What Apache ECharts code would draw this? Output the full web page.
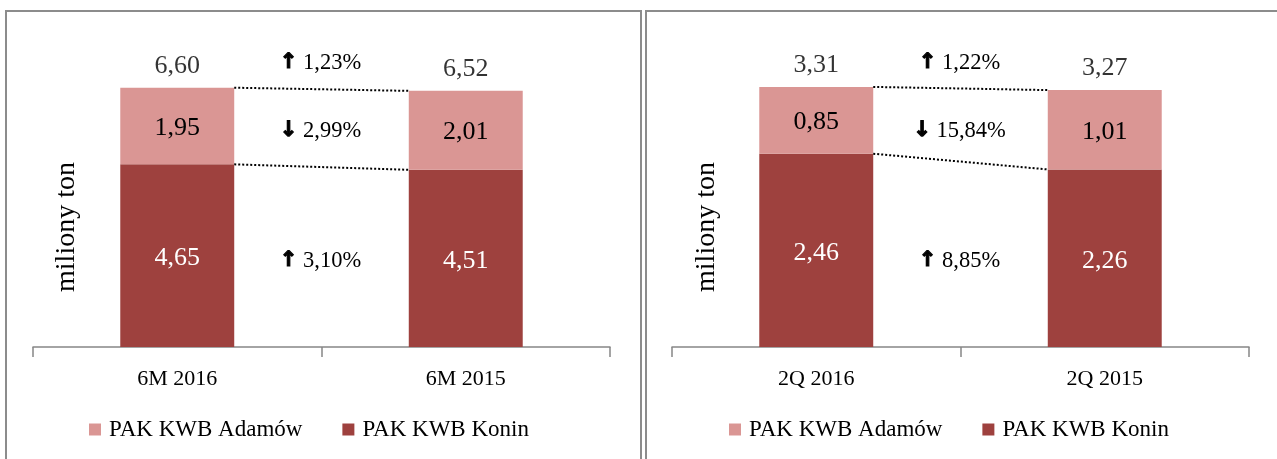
<!DOCTYPE html>
<html>
<head>
<meta charset="utf-8">
<script src="https://cdn.jsdelivr.net/npm/echarts@6/dist/echarts.min.js"></script>
<style>
  html, body { margin: 0; padding: 0; background: #fff; }
  #chart { width: 1277px; height: 459px; }
</style>
</head>
<body>
<div id="chart"></div>
<script>
// dane - wydobycie wegla (mln ton)
const cats6M = ['6M 2016', '6M 2015']
const cats2Q = ['2Q 2016', '2Q 2015']
const konin6M = [4.65, 4.51]
const adamow6M = [1.95, 2.01]
const total6M = [6.60, 6.52]
const konin2Q = [2.46, 2.26]
const adamow2Q = [0.85, 1.01]
const total2Q = [3.31, 3.27]
// zmiany r/r: [strzalka w gore?, tekst]
const change6M = [[true, '1,23%'], [false, '2,99%'], [true, '3,10%']]
const change2Q = [[true, '1,22%'], [false, '15,84%'], [true, '8,85%']]
const legendNames = ['PAK KWB Adamów', 'PAK KWB Konin']

const FONT = '"Liberation Serif", "DejaVu Serif", serif'
const C_ADAMOW = '#DA9694'
const C_KONIN = '#9E413E'
const BAR_W = 0.395          // czesc szerokosci kategorii
const HALF = BAR_W / 2
const fmt = v => v.toFixed(2).replace('.', ',')

const grids = [
  {left: 33, top: 72, width: 577, height: 275},
  {left: 672, top: 72, width: 577, height: 275}
]
const changeY = [63, 131, 261]

function panelSeries(idx, konin, adamow, total) {
  return [
    {
      name: 'PAK KWB Konin', type: 'bar', stack: 's' + idx,
      xAxisIndex: idx, yAxisIndex: idx, barWidth: (BAR_W * 100) + '%',
      itemStyle: {color: C_KONIN},
      label: {show: true, position: 'inside', offset: [0, 3], color: '#fff', fontSize: 26, fontFamily: FONT,
        formatter: p => fmt(p.value)},
      data: konin
    },
    {
      name: 'PAK KWB Adamów', type: 'bar', stack: 's' + idx,
      xAxisIndex: idx, yAxisIndex: idx, barWidth: (BAR_W * 100) + '%',
      itemStyle: {color: C_ADAMOW},
      label: {show: true, position: 'inside', offset: [0, 2], color: '#000', fontSize: 26, fontFamily: FONT,
        formatter: p => fmt(p.value)},
      data: adamow
    },
    {
      type: 'scatter', xAxisIndex: idx, yAxisIndex: idx, symbolSize: 0, silent: true,
      label: {show: true, position: 'top', distance: 9, color: '#000', fontSize: 26, fontFamily: FONT,
        formatter: p => fmt(p.value)},
      data: total
    },
    // linie kropkowane laczace slupki
    {
      type: 'line', xAxisIndex: idx + 2, yAxisIndex: idx, symbol: 'none', silent: true,
      lineStyle: {color: '#000', width: 2, type: [2, 2]},
      data: [[HALF, total[0]], [1 - HALF, total[1]]]
    },
    {
      type: 'line', xAxisIndex: idx + 2, yAxisIndex: idx, symbol: 'none', silent: true,
      lineStyle: {color: '#000', width: 2, type: [2, 2]},
      data: [[HALF, konin[0]], [1 - HALF, konin[1]]]
    }
  ]
}

function catAxis(idx, cats) {
  return {
    type: 'category', gridIndex: idx, data: cats,
    axisLine: {lineStyle: {color: '#868686', width: 1.5}},
    axisTick: {show: true, length: 10, lineStyle: {color: '#868686', width: 1.5}},
    axisLabel: {color: '#000', fontSize: 22, fontFamily: FONT, margin: 21}
  }
}

function changeTexts(idx, changes) {
  const g = grids[idx]
  return changes.map((c, i) => ({
    type: 'text', x: g.left + g.width / 2 - 1, y: changeY[i], z: 10,
    style: {
      text: '{a|' + (c[0] ? '↑' : '↓') + '}{t| ' + c[1] + '}',
      align: 'center', verticalAlign: 'middle',
      rich: {
        a: {fontSize: 21, fontWeight: 'bold', fontFamily: 'DejaVu Sans', fill: '#000',
          stroke: '#000', lineWidth: 1.2},
        t: {fontSize: 22.5, fontFamily: FONT, fill: '#000'}
      }
    }
  }))
}

function legendAt(left) {
  return {
    data: legendNames, left: left, top: 413, itemWidth: 12, itemHeight: 12, itemGap: 40, icon: 'rect',
    textStyle: {color: '#000', fontSize: 23, fontFamily: FONT, padding: [0, 0, 0, 3]}, selectedMode: false
  }
}

const chart = echarts.init(document.getElementById('chart'))
chart.setOption({
  animation: false,
  grid: grids,
  xAxis: [
    catAxis(0, cats6M),
    catAxis(1, cats2Q),
    {type: 'value', gridIndex: 0, min: -0.5, max: 1.5, show: false},
    {type: 'value', gridIndex: 1, min: -0.5, max: 1.5, show: false}
  ],
  yAxis: [
    {type: 'value', gridIndex: 0, min: 0, max: 7, show: false},
    {type: 'value', gridIndex: 1, min: 0, max: 3.5, show: false}
  ],
  legend: [legendAt(84), legendAt(724)],
  series: [].concat(
    panelSeries(0, konin6M, adamow6M, total6M),
    panelSeries(1, konin2Q, adamow2Q, total2Q)
  ),
  graphic: [
    {type: 'rect', shape: {x: 6, y: 11, width: 635, height: 470},
      style: {fill: 'none', stroke: '#8c8c8c', lineWidth: 2}},
    {type: 'rect', shape: {x: 646, y: 11, width: 640, height: 470},
      style: {fill: 'none', stroke: '#8c8c8c', lineWidth: 2}},
    {type: 'text', x: 67, y: 227, rotation: Math.PI / 2,
      style: {text: 'miliony ton', fontSize: 28, fontFamily: FONT, fill: '#000', align: 'center', verticalAlign: 'middle'}},
    {type: 'text', x: 707, y: 227, rotation: Math.PI / 2,
      style: {text: 'miliony ton', fontSize: 28, fontFamily: FONT, fill: '#000', align: 'center', verticalAlign: 'middle'}}
  ].concat(changeTexts(0, change6M), changeTexts(1, change2Q))
})
</script>
</body>
</html>
